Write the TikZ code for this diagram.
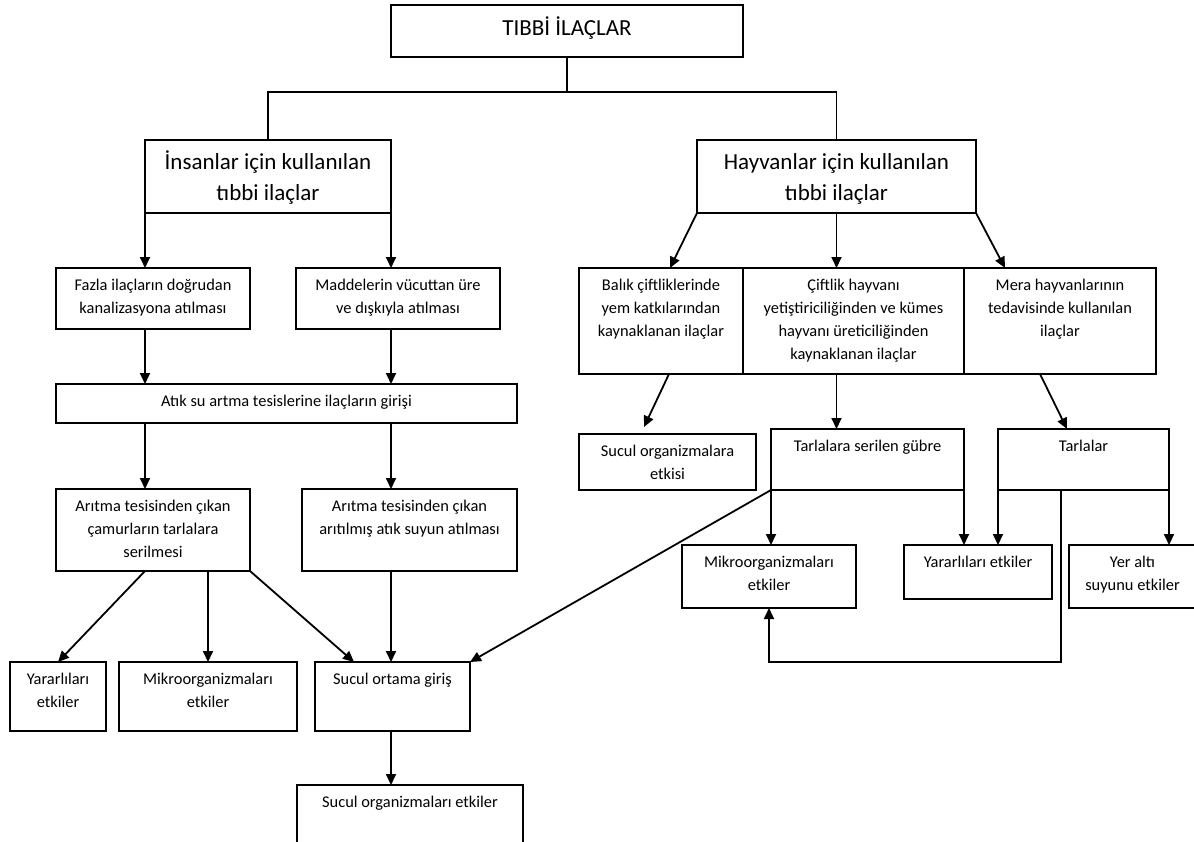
\documentclass[tikz,border=0pt]{standalone}
\usepackage{fontspec}
\setmainfont{Carlito}
\usetikzlibrary{arrows.meta,calc}
\newcommand{\smfont}{\fontsize{16.4}{23}\selectfont}
\newcommand{\lgfont}{\fontsize{23}{31}\selectfont}
\begin{document}
\begin{tikzpicture}[x=1pt,y=1pt,
 box/.style={draw, line width=1.8pt, inner sep=0pt, outer sep=0pt, anchor=north west},
 sm/.style={anchor=north, align=center, inner sep=0pt, yshift=-6.6pt, font=\smfont},
 lg/.style={anchor=north, align=center, inner sep=0pt, yshift=-7.6pt, font=\lgfont},
 lgt/.style={anchor=north, align=center, inner sep=0pt, yshift=-8.2pt, font=\lgfont},
 con/.style={line width=1.8pt},
 arr/.style={line width=1.8pt, -{Triangle[width=10pt,length=11pt]}},
]
\useasboundingbox (0,0) rectangle (1194,-841);
\fill[white] (0,0) rectangle (1194,-841);
\clip (0,0) rectangle (1194,-841);

\node[box, minimum width=352pt, minimum height=52pt, label={[lgt]north:{\strut TIBBİ İLAÇLAR}}] (top) at (391,-5) {};
\node[box, minimum width=246pt, minimum height=73pt, label={[lg]north:{\strut İnsanlar için kullanılan\\tıbbi ilaçlar}}] (ins) at (145,-140) {};
\node[box, minimum width=279pt, minimum height=73pt, label={[lg]north:{\strut Hayvanlar için kullanılan\\tıbbi ilaçlar}}] (hay) at (697,-140) {};
\node[box, minimum width=194pt, minimum height=61pt, label={[sm]north:{\strut Fazla ilaçların doğrudan\\kanalizasyona atılması}}] (fazla) at (56,-268) {};
\node[box, minimum width=204pt, minimum height=61pt, label={[sm]north:{\strut Maddelerin vücuttan üre\\ve dışkıyla atılması}}] (madde) at (296,-268) {};
\node[box, minimum width=461pt, minimum height=39pt, label={[sm]north:{\strut Atık su artma tesislerine ilaçların girişi}}] (atik) at (56,-384) {};
\node[box, minimum width=194pt, minimum height=82pt, label={[sm]north:{\strut Arıtma tesisinden çıkan\\çamurların tarlalara\\serilmesi}}] (camur) at (56,-489) {};
\node[box, minimum width=215pt, minimum height=82pt, label={[sm]north:{\strut Arıtma tesisinden çıkan\\arıtılmış atık suyun atılması}}] (aritik) at (302,-489) {};
\node[box, minimum width=96pt, minimum height=69pt, label={[sm]north:{\strut Yararlıları\\etkiler}}] (yarL) at (10,-662) {};
\node[box, minimum width=178pt, minimum height=69pt, label={[sm]north:{\strut Mikroorganizmaları\\etkiler}}] (mikL) at (119,-662) {};
\node[box, minimum width=155pt, minimum height=69pt, label={[sm]north:{\strut Sucul ortama giriş}}] (giris) at (315,-662) {};
\node[box, minimum width=226pt, minimum height=90pt, label={[sm]north:{\strut Sucul organizmaları etkiler}}] (sorg) at (297,-785) {};
\node[box, minimum width=164pt, minimum height=106pt, label={[sm]north:{\strut Balık çiftliklerinde\\yem katkılarından\\kaynaklanan ilaçlar}}] (balik) at (579,-268) {};
\node[box, minimum width=221pt, minimum height=106pt, label={[sm]north:{\strut Çiftlik hayvanı\\yetiştiriciliğinden ve kümes\\hayvanı üreticiliğinden\\kaynaklanan ilaçlar}}] (ciftlik) at (743,-268) {};
\node[box, minimum width=192pt, minimum height=106pt, label={[sm]north:{\strut Mera hayvanlarının\\tedavisinde kullanılan\\ilaçlar}}] (mera) at (964,-268) {};
\node[box, minimum width=177pt, minimum height=56pt, label={[sm]north:{\strut Sucul organizmalara\\etkisi}}] (setki) at (579,-434) {};
\node[box, minimum width=193pt, minimum height=61pt, label={[sm]north:{\strut Tarlalara serilen gübre}}] (gubre) at (771,-429) {};
\node[box, minimum width=171pt, minimum height=61pt, label={[sm]north:{\strut Tarlalar}}] (tarla) at (998,-429) {};
\node[box, minimum width=174pt, minimum height=63pt, label={[sm]north:{\strut Mikroorganizmaları\\etkiler}}] (mikR) at (682,-545) {};
\node[box, minimum width=148pt, minimum height=54pt, label={[sm]north:{\strut Yararlıları etkiler}}] (yarR) at (904,-545) {};
\node[box, minimum width=127pt, minimum height=63pt, label={[sm]north:{\strut Yer altı\\suyunu etkiler}}] (yer) at (1069,-545) {};

\coordinate (j) at (567,-92);
\draw[con] (top.south) -- (j);
\draw[con] (ins.north) |- (j) -| (hay.north);
\draw[arr] (ins.south west) -- (ins.south west |- fazla.north);
\draw[arr] (ins.south east) -- (ins.south east |- madde.north);
\draw[arr] (fazla.south -| ins.south west) -- (atik.north -| ins.south west);
\draw[arr] (madde.south -| ins.south east) -- (atik.north -| ins.south east);
\draw[arr] (atik.south -| ins.south west) -- (camur.north -| ins.south west);
\draw[arr] (atik.south -| ins.south east) -- (aritik.north -| ins.south east);
\draw[arr] (camur.south -| ins.south west) -- (yarL.north);
\draw[arr] (camur.south -| mikL.north) -- (mikL.north);
\draw[arr] (camur.south east) -- ($(giris.north west)+(39,0)$);
\draw[arr] (aritik.south -| ins.south east) -- (giris.north -| ins.south east);
\draw[arr] (gubre.south west) -- (giris.north east);
\draw[arr] (giris.south -| ins.south east) -- (sorg.north -| ins.south east);
\draw[arr] (hay.south west) -- ($(balik.north west)+(91,0)$);
\draw[arr] (hay.south) -- (hay.south |- ciftlik.north);
\draw[arr] (hay.south east) -- ($(mera.north west)+(41,0)$);
\draw[arr] ($(balik.south west)+(90,0)$) -- ($(setki.north west)+(65,7)$);
\draw[arr] (hay.south |- ciftlik.south) -- (hay.south |- gubre.north);
\draw[arr] ($(mera.south west)+(76,0)$) -- ($(tarla.north west)+(69,0)$);
\draw[arr] (gubre.south west) -- (gubre.south west |- mikR.north);
\draw[arr] (gubre.south east) -- (gubre.south east |- yarR.north);
\draw[arr] (tarla.south west) -- (tarla.south west |- yarR.north);
\draw[arr] (tarla.south east) -- (tarla.south east |- yer.north);
\coordinate (loop) at (1061,-662);
\draw[arr] ($(tarla.south west)+(63,0)$) -- (loop) -| (mikR.south);
\end{tikzpicture}
\end{document}
